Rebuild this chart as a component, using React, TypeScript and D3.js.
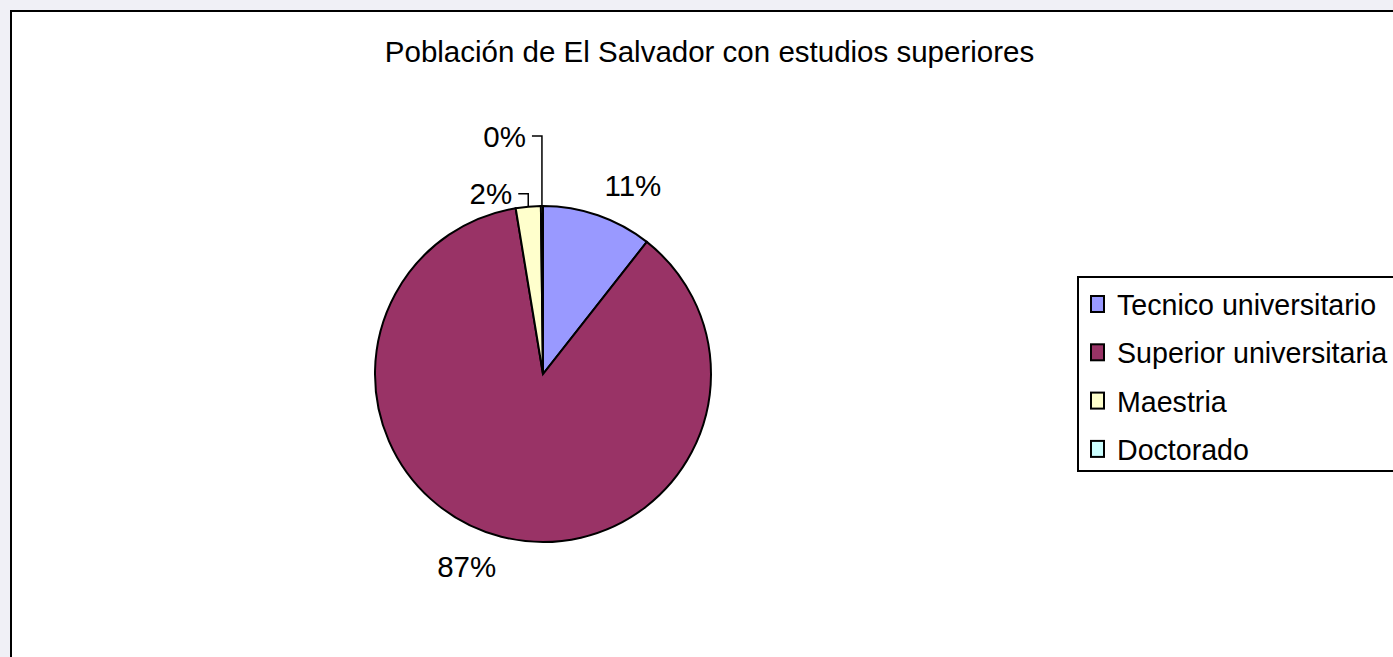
import React from "react";
import * as d3 from "d3";

const categories = ["Tecnico universitario", "Superior universitaria", "Maestria", "Doctorado"];
const values = [10.6, 86.8, 2.4, 0.2];
const colors = ["#9999FF", "#993366", "#FFFFCC", "#CCFFFF"];
const title = "Población de El Salvador con estudios superiores";

const W = 1393;
const H = 657;
const FONT = "'Liberation Sans', Arial, sans-serif";
const FS = 29.5;
const LFS = 28.6;
const CAP = 0.716 * FS;

export default function App() {
  const cx = 543;
  const cy = 374;
  const R = 168;
  const total = d3.sum(values);
  const pie = d3.pie<number>().sort(null).value((d) => d).startAngle(0).endAngle(2 * Math.PI);
  const arcs = pie(values);
  const arc = d3.arc<d3.PieArcDatum<number>>().innerRadius(0).outerRadius(R);

  // leader rise for small slices (px above arc edge)
  const leaderRise = [0, 0, 13, 70];
  const labelR = R + 20;

  const labels = arcs.map((a, i) => {
    const mid = (a.startAngle + a.endAngle) / 2;
    const text = Math.round((a.value / total) * 100) + "%";
    const sx = Math.sin(mid);
    const sy = -Math.cos(mid);
    if (leaderRise[i] > 0) {
      const ex = cx + R * sx;
      const ey = cy + R * sy;
      const ly = ey - leaderRise[i];
      const hx = ex - 10;
      return (
        <g key={i}>
          <path d={`M${ex},${ey}L${ex},${ly}L${hx},${ly}`} fill="none" stroke="#000" strokeWidth={1.5} />
          <text x={hx - 6} y={ly + CAP / 2} textAnchor="end" fontSize={FS} fontFamily={FONT} fill="#000">
            {text}
          </text>
        </g>
      );
    }
    const px = cx + labelR * sx;
    const py = cy + labelR * sy;
    const anchor = sx >= 0 ? "start" : "end";
    const baseline = sy <= 0 ? py : py + CAP;
    return (
      <text key={i} x={px} y={baseline} textAnchor={anchor} fontSize={FS} fontFamily={FONT} fill="#000">
        {text}
      </text>
    );
  });

  const legendX = 1078;
  const legendY = 277;
  const legendRow = d3.scaleLinear().domain([0, 1]).range([315, 363.3]);

  return (
    <svg
      width={W}
      height={H}
      style={{ position: "fixed", left: 0, top: 0, display: "block" }}
      xmlns="http://www.w3.org/2000/svg"
    >
      <rect x={0} y={0} width={W} height={H} fill="#f0f0f6" />
      <rect x={11} y={11} width={W + 20} height={H + 20} fill="#fff" stroke="#000" strokeWidth={2} />
      <text x={709.5} y={62} textAnchor="middle" fontSize={FS} fontFamily={FONT} fill="#000">
        {title}
      </text>
      <g transform={`translate(${cx},${cy})`}>
        {arcs.map((a, i) => (
          <path key={i} d={arc(a) || ""} fill={colors[i]} stroke="#000" strokeWidth={2} strokeLinejoin="miter" />
        ))}
      </g>
      {labels}
      <rect x={legendX} y={legendY} width={W} height={194} fill="#fff" stroke="#000" strokeWidth={2} />
      {categories.map((c, i) => {
        const by = legendRow(i);
        return (
          <g key={i}>
            <rect x={1091} y={by - 19} width={13} height={16} fill={colors[i]} stroke="#000" strokeWidth={2} />
            <text x={1117} y={by} fontSize={LFS} fontFamily={FONT} fill="#000">
              {c}
            </text>
          </g>
        );
      })}
    </svg>
  );
}
